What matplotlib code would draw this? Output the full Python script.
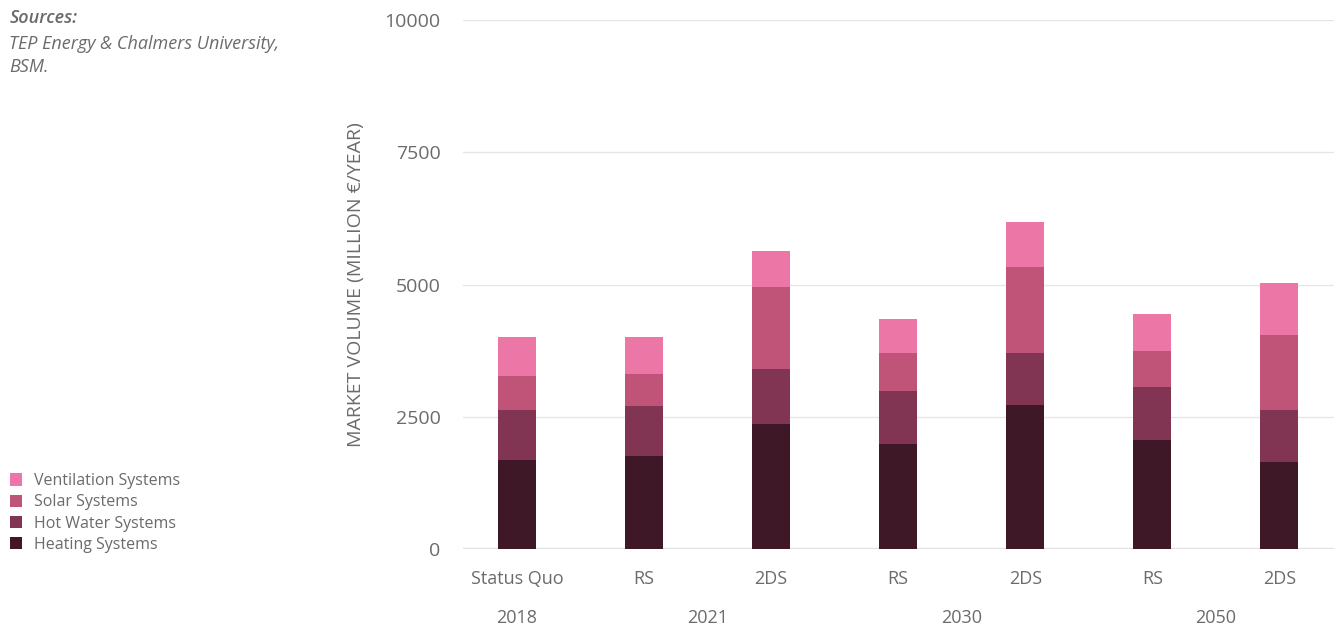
import numpy as np
import matplotlib.pyplot as plt
from matplotlib.patches import Patch

scenarios = ["Status Quo", "RS", "2DS", "RS", "2DS", "RS", "2DS"]
years = ["2018", "2021", "2030", "2050"]
year_pos = [0, 1.5, 3.5, 5.5]

heating = [1680, 1760, 2360, 1985, 2720, 2060, 1645]
hot_water = [950, 945, 1040, 1000, 985, 1000, 985]
solar = [640, 605, 1550, 720, 1625, 680, 1415]
ventilation = [730, 700, 680, 645, 850, 700, 985]

series = [
    ("Heating Systems", heating, "#3f1827"),
    ("Hot Water Systems", hot_water, "#823553"),
    ("Solar Systems", solar, "#c05478"),
    ("Ventilation Systems", ventilation, "#ec77a7"),
]

plt.rcParams['font.family'] = ['Open Sans', 'DejaVu Sans']
grey = "#6b6b6b"

fig = plt.figure(figsize=(13.34, 6.25), dpi=100)
ax = fig.add_axes([0.347, 0.1216, 0.653, 0.8464])

x = np.arange(len(scenarios))
bottom = np.zeros(len(scenarios))
handles = []
for name, vals, col in series:
    ax.bar(x, vals, width=0.3, bottom=bottom, color=col, zorder=3)
    bottom += np.array(vals)
    handles.append(Patch(facecolor=col, label=name))

ax.set_ylim(0, 10000)
ax.set_xlim(-0.425, 6.43)
ax.set_yticks([0, 2500, 5000, 7500, 10000])
ax.set_xticks(x)
ax.set_xticklabels(scenarios)
ax.tick_params(axis='y', length=0, labelsize=14, colors=grey, pad=16)
ax.tick_params(axis='x', length=0, labelsize=13, colors=grey, pad=15)
ax.grid(axis='y', color="#e6e6e6", linewidth=1, zorder=0)
for s in ax.spines.values():
    s.set_visible(False)
ax.axhline(0, color="#e3e3e3", linewidth=2.5, zorder=2)

for yr, p in zip(years, year_pos):
    ax.text(p, -0.13, yr, transform=ax.get_xaxis_transform(), ha='center', va='center',
            fontsize=13, color=grey)

ax.set_ylabel("MARKET VOLUME (MILLION €/YEAR)", fontsize=14, color=grey)
ax.yaxis.set_label_coords(-0.112, 0.5)

fig.text(0.007, 0.971, "Sources:", fontsize=13, color=grey, style='italic',
         weight='semibold', va='center')
fig.text(0.007, 0.929, "TEP Energy & Chalmers University,", fontsize=13, color=grey,
         style='italic', va='center')
fig.text(0.007, 0.893, "BSM.", fontsize=13, color=grey, style='italic', va='center')

fig.legend(handles=handles[::-1], loc='lower left', bbox_to_anchor=(0.0, 0.1), frameon=False,
           fontsize=11.5, labelcolor=grey, handlelength=0.8, handleheight=0.8,
           handletextpad=0.7, labelspacing=0.33, borderaxespad=0.2)

fig.savefig("out.png", dpi=100)
